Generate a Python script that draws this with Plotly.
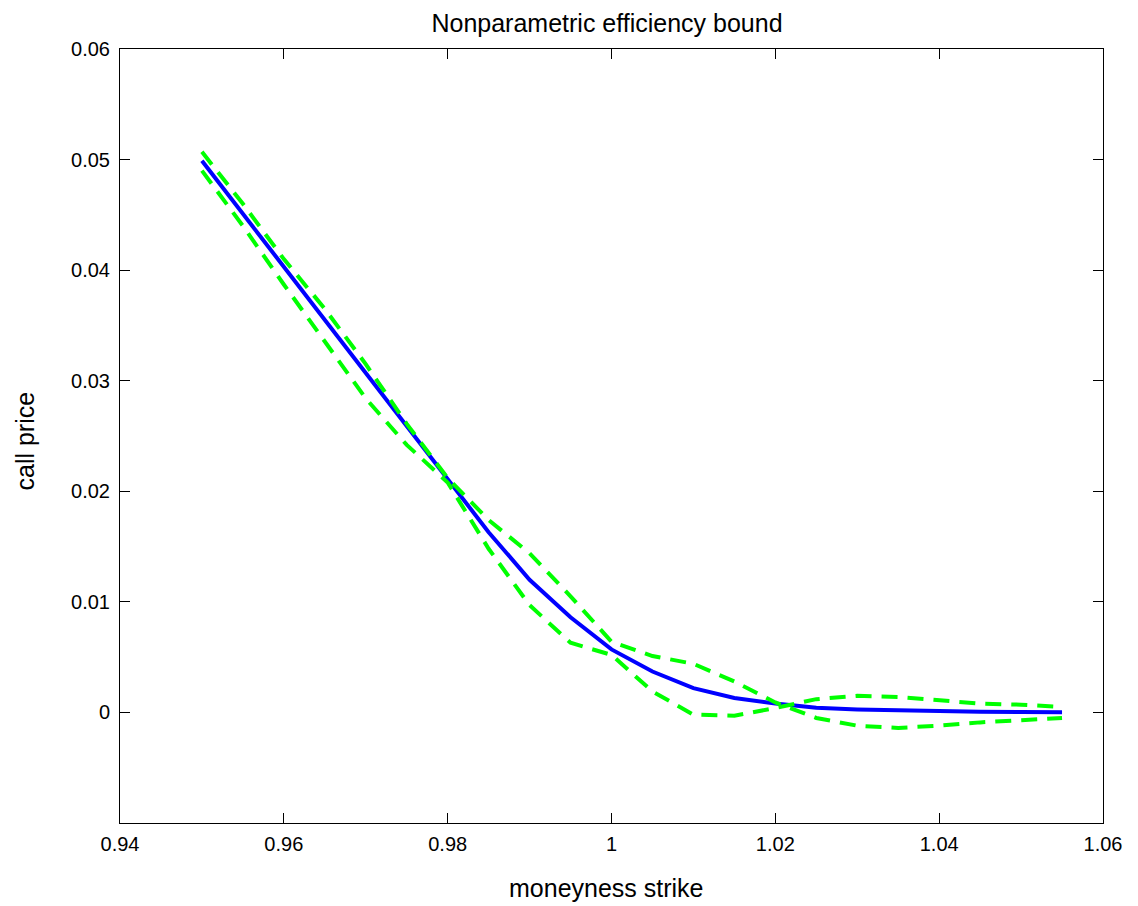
import plotly.graph_objects as go

# Data
moneyness = [0.950, 0.955, 0.960, 0.965, 0.970, 0.975, 0.980, 0.985, 0.990, 0.995, 1.000,
             1.005, 1.010, 1.015, 1.020, 1.025, 1.030, 1.035, 1.040, 1.045, 1.050, 1.055]
call_price = [0.0499, 0.0451, 0.0402, 0.0355, 0.0307, 0.0259, 0.0211, 0.0163, 0.0120, 0.0086, 0.0057,
              0.0037, 0.0022, 0.0013, 0.0008, 0.00042, 0.00027, 0.00018, 0.0001, 0.00006, 0.00003, 0.00001]
bound_a = [0.0507, 0.0460, 0.0410, 0.0365, 0.0315, 0.0261, 0.0212, 0.0174, 0.0144, 0.0105, 0.0064,
           0.0051, 0.0044, 0.0028, 0.0009, -0.0005, -0.0012, -0.0014, -0.0012, -0.0009, -0.0007, -0.0005]
bound_b = [0.0490, 0.0440, 0.0387, 0.0336, 0.0284, 0.0242, 0.0208, 0.0148, 0.0097, 0.0063, 0.0052,
           0.0019, -0.0002, -0.0003, 0.0004, 0.0012, 0.0015, 0.0014, 0.0011, 0.0008, 0.0007, 0.0005]

x_ticks = [0.94, 0.96, 0.98, 1.00, 1.02, 1.04, 1.06]
x_ticktext = ["0.94", "0.96", "0.98", "1", "1.02", "1.04", "1.06"]
y_ticks = [0, 0.01, 0.02, 0.03, 0.04, 0.05, 0.06]
y_ticktext = ["0", "0.01", "0.02", "0.03", "0.04", "0.05", "0.06"]

FONT = "Liberation Sans, Arial, Helvetica, sans-serif"

W, H = 1138, 906
ML, MT, PW, PH = 120, 49, 983, 774

fig = go.Figure()
fig.add_trace(go.Scatter(x=moneyness, y=call_price, mode="lines",
                         line=dict(color="#0000FF", width=4), showlegend=False))
fig.add_trace(go.Scatter(x=moneyness, y=bound_a, mode="lines",
                         line=dict(color="#00FF00", width=4, dash="16px,10px"), showlegend=False))
fig.add_trace(go.Scatter(x=moneyness, y=bound_b, mode="lines",
                         line=dict(color="#00FF00", width=4, dash="16px,10px"), showlegend=False))

axis_common = dict(
    showgrid=False, zeroline=False, showline=True, linecolor="black", linewidth=1,
    mirror="allticks", ticks="inside", ticklen=10, tickwidth=1, tickcolor="black",
    tickfont=dict(family=FONT, size=20, color="black"),
)

fig.update_layout(
    width=W, height=H,
    margin=dict(l=ML, r=W - ML - PW, t=MT, b=H - MT - PH, pad=0),
    paper_bgcolor="white", plot_bgcolor="white",
    font=dict(family=FONT, color="black"),
    title=dict(text="Nonparametric efficiency bound", x=607 / W, xref="container", xanchor="center",
               y=1 - 23 / H, yref="container", yanchor="middle",
               font=dict(family=FONT, size=25, color="black")),
    xaxis=dict(range=[0.94, 1.06], tickvals=x_ticks, ticktext=x_ticktext,
               ticklabelstandoff=3, **axis_common),
    yaxis=dict(range=[-0.01, 0.06], tickvals=y_ticks, ticktext=y_ticktext,
               ticklabelstandoff=5, **axis_common),
    annotations=[
        dict(text="moneyness strike", xref="paper", yref="paper", x=(606 - ML) / PW, y=-65 / PH,
             xanchor="center", yanchor="middle", showarrow=False,
             font=dict(family=FONT, size=25, color="black")),
        dict(text="call price", xref="paper", yref="paper", x=-(ML - 24) / PW, y=1 - (441.5 - MT) / PH,
             xanchor="center", yanchor="middle", textangle=-90, showarrow=False,
             font=dict(family=FONT, size=25, color="black")),
    ],
)

fig.write_html("out.html", config={"displayModeBar": False},
               post_script="document.body.style.margin='0';")
